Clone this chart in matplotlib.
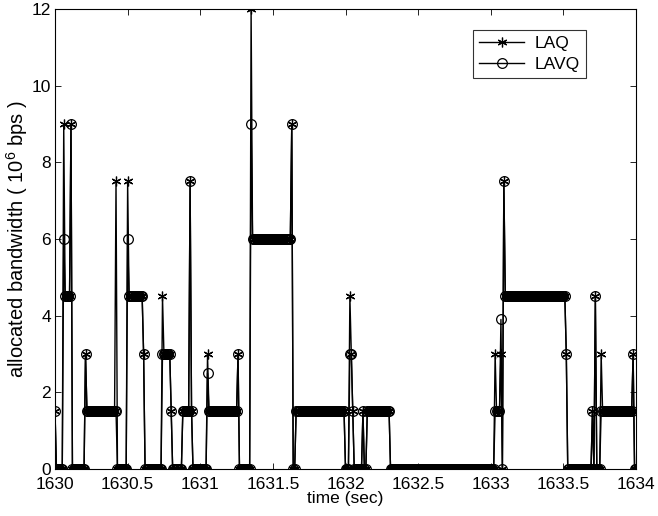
import numpy as np
import matplotlib
matplotlib.use('Agg')
import matplotlib.pyplot as plt

plt.rcParams['font.family'] = ['Liberation Sans', 'DejaVu Sans']
plt.rcParams['mathtext.fontset'] = 'custom'
plt.rcParams['mathtext.rm'] = 'Liberation Sans'
plt.rcParams['mathtext.it'] = 'Liberation Sans'

# samples every 10 ms, stored as runs of equal values
debutTemps = 1630.0
pasTemps = 0.01
longueursPaliers = [1, 5, 1, 4, 1, 9, 1, 20, 1, 7,
                    1, 10, 1, 12, 1, 5, 1, 7, 5, 1,
                    1, 10, 1, 20, 1, 8, 1, 27, 1, 2,
                    34, 3, 1, 1, 1, 6, 1, 2, 16, 72,
                    1, 3, 1, 1, 1, 42, 1, 17, 1, 1,
                    1, 3, 1, 21, 1, 2]
paliersLAQ = [1.5, 0, 9, 4.5, 9, 0, 3, 1.5, 7.5, 0,
              7.5, 4.5, 3, 0, 4.5, 3, 1.5, 0, 1.5, 7.5,
              1.5, 0, 3, 1.5, 3, 0, 12, 6, 9, 0,
              1.5, 0, 4.5, 3, 1.5, 0, 1.5, 0, 1.5, 0,
              3, 1.5, 3, 0, 7.5, 4.5, 3, 0, 1.5, 0,
              4.5, 0, 3, 1.5, 3, 0]
paliersLAVQ = [1.5, 0, 6, 4.5, 9, 0, 3, 1.5, 1.5, 0,
               6, 4.5, 3, 0, 3, 3, 1.5, 0, 1.5, 7.5,
               1.5, 0, 2.5, 1.5, 3, 0, 9, 6, 9, 0,
               1.5, 0, 3, 3, 1.5, 0, 1.5, 0, 1.5, 0,
               1.5, 1.5, 3.9, 0, 7.5, 4.5, 3, 0, 1.5, 0,
               4.5, 0, 1.5, 1.5, 3, 0]

laq = np.repeat(paliersLAQ, longueursPaliers)
lavq = np.repeat(paliersLAVQ, longueursPaliers)
temps = debutTemps + pasTemps * np.arange(len(laq))

fig = plt.figure(figsize=(6.58, 5.16), dpi=100)
ax = fig.add_axes([0.0836, 0.0911, 0.883, 0.8915])

ax.plot(temps, laq, color='black', linewidth=1.0, marker=(6, 2, 0), markersize=7,
        markeredgewidth=0.9, label='LAQ')
ax.plot(temps, lavq, color='black', linewidth=1.0, marker='o', markersize=7,
        markerfacecolor='none', markeredgewidth=0.9, label='LAVQ')

ax.set_xlim(1630, 1634)
ax.set_ylim(0, 12)
ax.set_xticks(np.arange(1630, 1634.01, 0.5))
ax.set_xticklabels(['1630', '1630.5', '1631', '1631.5', '1632', '1632.5',
                    '1633', '1633.5', '1634'])
ax.set_yticks(np.arange(0, 13, 2))
ax.tick_params(direction='in', top=True, right=True, labelsize=12.5,
               length=4, width=0.6)
ax.tick_params(axis='x', pad=6)
ax.tick_params(axis='y', pad=3)
for spine in ax.spines.values():
    spine.set_linewidth(0.8)

ax.set_xlabel('time (sec)', fontsize=12.5, labelpad=-1)
ax.set_ylabel('allocated bandwidth ( 10$^{6}$ bps )', fontsize=14.5, labelpad=1)

leg = ax.legend(loc='upper right', bbox_to_anchor=(0.914, 0.954), fontsize=12.5,
                frameon=True, fancybox=False, edgecolor='black',
                handlelength=2.6, borderpad=0.35, labelspacing=0.3,
                handletextpad=0.6, borderaxespad=0)
leg.get_frame().set_linewidth(0.8)

fig.savefig('out.png', dpi=100)
